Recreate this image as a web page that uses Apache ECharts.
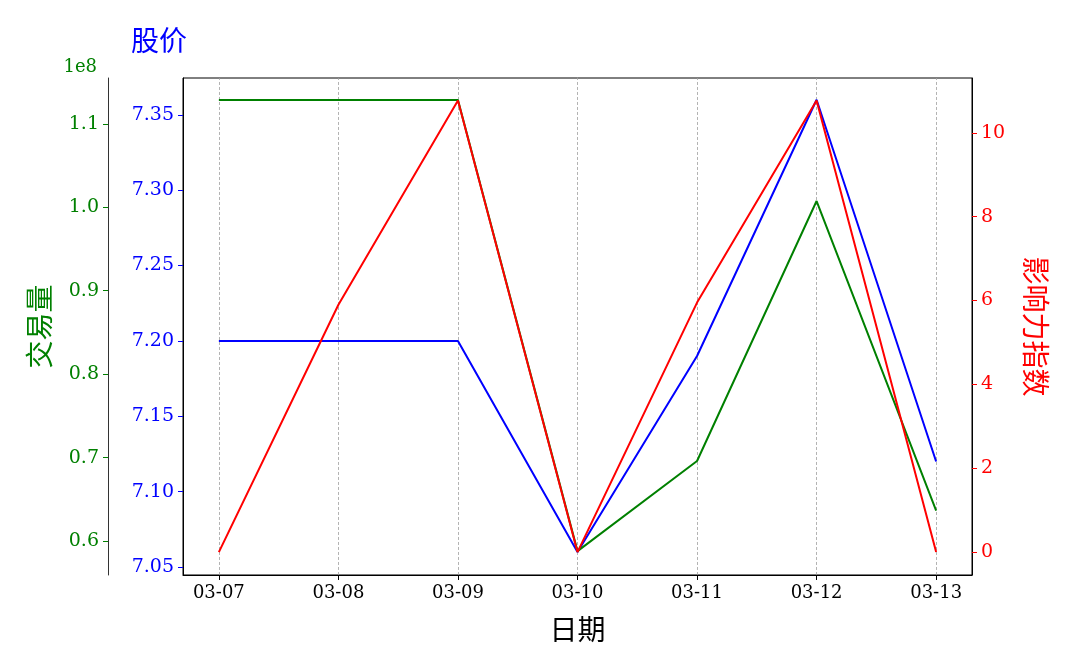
<!DOCTYPE html>
<html>
<head>
<meta charset="utf-8">
<script src="https://cdn.jsdelivr.net/npm/echarts@6/dist/echarts.min.js"></script>
<style>
html,body{margin:0;padding:0;background:#fff;}
#chart{width:1080px;height:648px;}
</style>
</head>
<body>
<div id="chart"></div>
<script>
// ---- data ----
const dates = ['03-07','03-08','03-09','03-10','03-11','03-12','03-13'];
const stockPrice = [7.20, 7.20, 7.20, 7.06, 7.19, 7.36, 7.12];
const volume = [112860000, 112860000, 112860000, 58800000, 69600000, 100750000, 63660000];
const influence = [0, 5.9, 10.77, 0, 5.95, 10.77, 0];

const xTicks = [0, 1, 2, 3, 4, 5, 6];
const priceTicks = [7.05, 7.10, 7.15, 7.20, 7.25, 7.30, 7.35];
const volumeTicks = [60000000, 70000000, 80000000, 90000000, 100000000, 110000000];
const influenceTicks = [0, 2, 4, 6, 8, 10];

const GREEN = '#008000', BLUE = '#0000ff', RED = '#ff0000';
const NUM_FONT = "'DejaVu Serif', 'Noto Sans CJK SC', serif";
const CJK_FONT = "'Noto Sans CJK SC', sans-serif";

const toPairs = arr => arr.map((v, i) => [i, v]);

const chart = echarts.init(document.getElementById('chart'), null, {renderer: 'canvas'});
const option = {
  animation: false,
  backgroundColor: '#fff',
  grid: {left: 183, right: 108, top: 78, bottom: 71, show: true, borderColor: '#000', borderWidth: 1, backgroundColor: 'transparent'},
  xAxis: {
    type: 'value', min: -0.3, max: 6.3,
    axisLine: {show: true, onZero: false, lineStyle: {color: '#000', width: 1}},
    axisTick: {show: true, customValues: xTicks, length: 5, lineStyle: {color: '#000'}},
    axisLabel: {show: true, customValues: xTicks, formatter: v => dates[Math.round(v)], color: '#000', fontSize: 18, fontFamily: NUM_FONT, margin: 9},
    splitLine: {show: false},
    name: '日期', nameLocation: 'middle', nameGap: 40,
    nameTextStyle: {fontSize: 28, color: '#000', fontFamily: CJK_FONT}
  },
  yAxis: [
    {
      type: 'value', position: 'left', offset: 0, min: 7.0447, max: 7.3744,
      axisLine: {show: true, onZero: false, lineStyle: {color: '#000'}},
      axisTick: {show: true, customValues: priceTicks, length: 5, lineStyle: {color: BLUE}},
      axisLabel: {show: true, customValues: priceTicks, formatter: v => v.toFixed(2), color: BLUE, fontSize: 19, fontFamily: NUM_FONT, margin: 9},
      splitLine: {show: false}
    },
    {
      type: 'value', position: 'left', offset: 75, min: 55940000, max: 115490000,
      axisLine: {show: true, onZero: false, lineStyle: {color: '#333'}},
      axisTick: {show: true, customValues: volumeTicks, length: 5, lineStyle: {color: GREEN}},
      axisLabel: {show: true, customValues: volumeTicks, formatter: v => (v / 1e8).toFixed(1), color: GREEN, fontSize: 19, fontFamily: NUM_FONT, margin: 9},
      splitLine: {show: false},
      name: '交易量', nameLocation: 'middle', nameGap: 55, nameRotate: 90,
      nameTextStyle: {fontSize: 28, color: GREEN, fontFamily: CJK_FONT}
    },
    {
      type: 'value', position: 'right', offset: 0, min: -0.546, max: 11.306,
      axisLine: {show: true, onZero: false, lineStyle: {color: '#000'}},
      axisTick: {show: true, customValues: influenceTicks, length: 5, lineStyle: {color: RED}},
      axisLabel: {show: true, customValues: influenceTicks, formatter: v => String(Math.round(v)), color: RED, fontSize: 19, fontFamily: NUM_FONT, margin: 9},
      splitLine: {show: false},
      name: '影响力指数', nameLocation: 'middle', nameGap: 50, nameRotate: -90,
      nameTextStyle: {fontSize: 28, color: RED, fontFamily: CJK_FONT}
    }
  ],
  graphic: [
    {type: 'text', x: 159, y: 40, z: 10, style: {text: '股价', fill: BLUE, font: "28px 'Noto Sans CJK SC'", textAlign: 'center', textVerticalAlign: 'middle'}},
    {type: 'text', x: 97, y: 67, z: 10, style: {text: '1e8', fill: GREEN, font: "18px 'DejaVu Serif'", textAlign: 'right', textVerticalAlign: 'middle'}}
  ],
  series: [
    {
      name: 'grid', type: 'line', xAxisIndex: 0, yAxisIndex: 0, data: [], z: 0,
      markLine: {
        silent: true, symbol: 'none', z: 0, animation: false,
        label: {show: false},
        lineStyle: {color: '#a0a0a0', type: [3, 2], width: 0.8},
        data: xTicks.map(v => ({xAxis: v}))
      }
    },
    {name: '股价', type: 'line', yAxisIndex: 0, data: toPairs(stockPrice), showSymbol: false, symbol: 'none', z: 2, lineStyle: {color: BLUE, width: 2}, itemStyle: {color: BLUE}},
    {name: '交易量', type: 'line', yAxisIndex: 1, data: toPairs(volume), showSymbol: false, symbol: 'none', z: 3, lineStyle: {color: GREEN, width: 2}, itemStyle: {color: GREEN}},
    {name: '影响力指数', type: 'line', yAxisIndex: 2, data: toPairs(influence), showSymbol: false, symbol: 'none', z: 4, lineStyle: {color: RED, width: 2}, itemStyle: {color: RED}}
  ]
};
chart.setOption(option);
</script>
</body>
</html>
